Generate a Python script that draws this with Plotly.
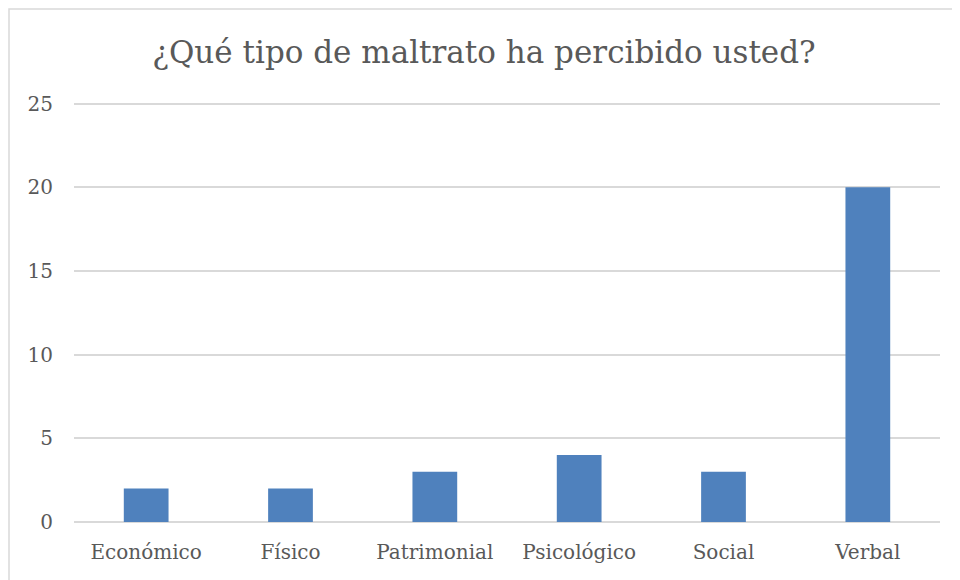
import plotly.graph_objects as go

categories = ["Económico", "Físico", "Patrimonial", "Psicológico", "Social", "Verbal"]
values = [2, 2, 3, 4, 3, 20]
y_ticks = [0, 5, 10, 15, 20, 25]

# page body has an 8px margin, so the figure is shifted by 8px
OFF = 8
YMAX = 25.15                      # a little headroom so the 25 gridline is drawn
px_per_unit = 418 / 25            # 0 at y=522, 25 at y=104 (page pixels)
ph = round(px_per_unit * YMAX)
W, H = 960 - OFF, 580 - OFF
L, R = 74 - OFF, 20
B = H - (522 - OFF)
T = H - B - ph
pw = W - L - R

def px_x(px):
    return (px - OFF - L) / pw

def px_y(py):
    return (H - B - (py - OFF)) / ph

fig = go.Figure(go.Bar(
    x=categories, y=values,
    marker=dict(color="#4F81BD", line=dict(width=0)),
    width=0.31,
))

fig.update_layout(
    width=W, height=H,
    margin=dict(l=L, r=R, t=T, b=B),
    paper_bgcolor="white", plot_bgcolor="white",
    font=dict(family="DejaVu Serif, serif", color="#595959", size=20),
    title=dict(text="¿Qué tipo de maltrato ha percibido usted?",
               x=0.5, xanchor="center", y=1 - (52 - OFF) / H, yanchor="middle",
               font=dict(size=31, color="#595959")),
    showlegend=False,
    bargap=0.69,
    xaxis=dict(showgrid=False, showline=False, ticks="", tickfont=dict(size=20),
               ticklabelstandoff=16),
    yaxis=dict(range=[0, YMAX], tickvals=y_ticks, showgrid=True, gridcolor="#D9D9D9",
               gridwidth=1.5, zeroline=True, zerolinecolor="#D9D9D9", zerolinewidth=1.5,
               showline=False, ticks="", ticklabelstandoff=20, tickfont=dict(size=20)),
    shapes=[dict(type="rect", xref="paper", yref="paper",
                 x0=px_x(9), x1=px_x(975), y0=px_y(600), y1=px_y(9),
                 line=dict(color="#D9D9D9", width=1.5), fillcolor="rgba(0,0,0,0)",
                 layer="below")],
)

fig.write_html("out.html")
